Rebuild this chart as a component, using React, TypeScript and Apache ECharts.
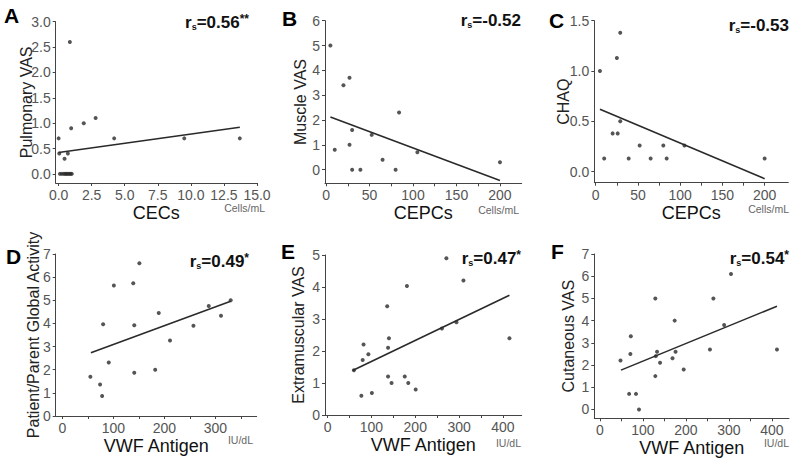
import React, { useEffect, useRef } from 'react';
import * as echarts from 'echarts';

const panelLetters = ['A', 'B', 'C', 'D', 'E', 'F'];
const xNames = ['CECs', 'CEPCs', 'CEPCs', 'VWF Antigen', 'VWF Antigen', 'VWF Antigen'];
const xUnits = ['Cells/mL', 'Cells/mL', 'Cells/mL', 'IU/dL', 'IU/dL', 'IU/dL'];
const yNames = ['Pulmonary VAS', 'Muscle VAS', 'CHAQ', 'Patient/Parent Global Activity', 'Extramuscular VAS', 'Cutaneous VAS'];
const rsValues = ['0.56', '-0.52', '-0.53', '0.49', '0.47', '0.54'];
const rsStars = ['**', '', '', '*', '*', '*'];

const pointsA = [
  [0.0, 0.7], [0.05, 0.4], [0.7, 0.4], [0.45, 0.3], [0.85, 2.6], [0.95, 0.9], [1.9, 1.0], [2.8, 1.1],
  [4.2, 0.7], [9.5, 0.7], [13.7, 0.7],
  [0.1, 0], [0.25, 0], [0.4, 0], [0.5, 0], [0.6, 0], [0.7, 0], [0.8, 0], [0.9, 0], [1.0, 0],
];
const fitA = [[0, 0.42], [13.7, 0.92]];

const pointsB = [
  [5, 5.0], [10, 0.8], [20, 3.4], [27, 3.7], [27, 1.0], [30, 1.6], [30, 0], [39.5, 0],
  [52.5, 1.4], [65, 0.4], [80, 0], [84, 2.3], [105, 0.7], [200, 0.3],
];
const fitB = [[5, 2.12], [200, -0.44]];

const pointsC = [
  [5, 1.0], [10, 0.13], [20, 0.38], [26, 0.38], [25, 1.13], [29, 1.38], [29, 0.5], [39, 0.13],
  [52, 0.26], [65, 0.13], [80, 0.26], [84, 0.13], [105, 0.26], [200, 0.13],
];
const fitC = [[5, 0.62], [200, -0.07]];

const pointsD = [
  [55, 1.7], [74, 1.36], [78, 0.86], [80, 3.96], [91, 2.31], [101, 5.64], [139, 5.74], [141, 3.92],
  [141, 1.87], [151, 6.6], [182, 2.0], [189, 4.45], [211, 3.26], [257, 3.9], [287, 4.75], [311, 4.33], [330, 5.0],
];
const fitD = [[56, 2.73], [330, 4.96]];

const pointsE = [
  [60, 1.4], [77, 0.6], [80, 1.72], [82, 2.2], [93, 1.9], [101, 0.69], [136, 3.4], [140, 2.4],
  [138, 2.1], [138, 1.2], [146, 1.0], [181, 4.03], [176, 1.2], [184, 1.0], [201, 0.8], [261, 2.7],
  [271, 4.9], [294, 2.9], [310, 4.2], [415, 2.4],
];
const fitE = [[57, 1.39], [415, 3.74]];

const pointsF = [
  [48, 2.2], [68, 0.7], [71, 2.5], [72, 3.3], [84, 0.7], [91, 0], [129, 5.0], [129, 1.5],
  [130, 2.4], [133, 2.6], [140, 2.1], [169, 2.3], [174, 4.0], [176, 2.6], [195, 1.8], [256, 2.7],
  [264, 5.0], [289, 3.8], [305, 6.1], [412, 2.7],
];
const fitF = [[49, 1.77], [412, 4.65]];

const xTicksA = [0, 2.5, 5, 7.5, 10, 12.5, 15];
const yTicksA = [0, 0.5, 1, 1.5, 2, 2.5, 3];
const xTicksBC = [0, 25, 50, 75, 100, 125, 150, 175, 200];
const xLabelsBC = [0, 50, 100, 150, 200];
const yTicksB = [0, 1, 2, 3, 4, 5, 6];
const yTicksC = [0, 0.5, 1, 1.5];
const xTicksD = [0, 50, 100, 150, 200, 250, 300, 350];
const xLabelsD = [0, 100, 200, 300];
const yTicksD = [0, 1, 2, 3, 4, 5, 6, 7];
const xTicksEF = [0, 50, 100, 150, 200, 250, 300, 350, 400];
const xLabelsEF = [0, 100, 200, 300, 400];
const yTicksE = [0, 1, 2, 3, 4, 5];
const yTicksF = [0, 1, 2, 3, 4, 5, 6, 7];

const panels = [
  { pts: pointsA, fit: fitA, xt: xTicksA, xl: xTicksA, yt: yTicksA, xd: 1, yd: 1 },
  { pts: pointsB, fit: fitB, xt: xTicksBC, xl: xLabelsBC, yt: yTicksB, xd: 0, yd: 0 },
  { pts: pointsC, fit: fitC, xt: xTicksBC, xl: xLabelsBC, yt: yTicksC, xd: 0, yd: 1 },
  { pts: pointsD, fit: fitD, xt: xTicksD, xl: xLabelsD, yt: yTicksD, xd: 0, yd: 0 },
  { pts: pointsE, fit: fitE, xt: xTicksEF, xl: xLabelsEF, yt: yTicksE, xd: 0, yd: 0 },
  { pts: pointsF, fit: fitF, xt: xTicksEF, xl: xLabelsEF, yt: yTicksF, xd: 0, yd: 0 },
];

// layout (pixels) and axis extents
const layout = [
  { l: 55.7, r: 257, t: 21.7, b: 183, xMin: -0.22, xMax: 15, yMin: -0.18, yMax: 3, yGap: 21 },
  { l: 325, r: 521.7, t: 20.7, b: 183.3, xMin: -1.2, xMax: 225, yMin: -0.55, yMax: 6, yGap: 17 },
  { l: 594.3, r: 788.3, t: 20.7, b: 182.7, xMin: -1.7, xMax: 228, yMin: -0.11, yMax: 1.5, yGap: 23 },
  { l: 55.7, r: 256.7, t: 254, b: 416, xMin: -13, xMax: 381, yMin: 0, yMax: 7, yGap: 14 },
  { l: 325, r: 521.7, t: 255, b: 415, xMin: -6, xMax: 443, yMin: 0, yMax: 5, yGap: 19 },
  { l: 594.3, r: 789, t: 254, b: 418.3, xMin: -13, xMax: 440, yMin: -0.4, yMax: 7, yGap: 18 },
];
const letterPos = [[4, 5], [282, 8], [549, 10], [6, 246], [281, 241], [551, 241]];
const rsPos = [[249, 22], [521, 20], [789, 25], [249, 261], [521, 258], [789, 258]];
const unitPos = [[265, 208], [519, 210], [789, 209], [253, 440], [521, 443], [789, 443]];

const FONT = 'Liberation Sans, Arial, Helvetica, sans-serif';
const AXIS = '#444';
const DOT = '#2a2a2a';

export default function App() {
  const ref = useRef<HTMLDivElement>(null);
  useEffect(() => {
    if (!ref.current) return;
    const chart = echarts.init(ref.current, null, { renderer: 'svg' });
    const grid: any[] = [];
    const xAxis: any[] = [];
    const yAxis: any[] = [];
    const series: any[] = [];
    const graphic: any[] = [];
    panels.forEach((p, i) => {
      const g = layout[i];
      grid.push({ left: g.l, top: g.t, width: g.r - g.l, height: g.b - g.t });
      xAxis.push({
        type: 'value', gridIndex: i, min: g.xMin, max: g.xMax,
        name: xNames[i], nameLocation: 'middle', nameGap: 21,
        nameTextStyle: { fontFamily: FONT, fontSize: 18, color: '#111' },
        axisLine: { show: true, onZero: false, lineStyle: { color: AXIS, width: 1 } },
        axisTick: { show: true, length: 3, customValues: p.xt, lineStyle: { color: AXIS } },
        axisLabel: {
          customValues: p.xl, margin: 5, fontFamily: FONT, fontSize: 14, color: '#555',
          formatter: (v: number) => v.toFixed(p.xd),
        },
        splitLine: { show: false },
      });
      yAxis.push({
        type: 'value', gridIndex: i, min: g.yMin, max: g.yMax,
        name: yNames[i], nameLocation: 'middle', nameGap: g.yGap, nameMoveOverlap: false,
        nameTextStyle: { fontFamily: FONT, fontSize: 16, color: '#222' },
        axisLine: { show: true, onZero: false, lineStyle: { color: AXIS, width: 1 } },
        axisTick: { show: true, length: 3, customValues: p.yt, lineStyle: { color: AXIS } },
        axisLabel: {
          customValues: p.yt, margin: 5, fontFamily: FONT, fontSize: 14, color: '#555',
          formatter: (v: number) => v.toFixed(p.yd),
        },
        splitLine: { show: false },
      });
      series.push({
        type: 'scatter', xAxisIndex: i, yAxisIndex: i, data: p.pts,
        symbolSize: 4, itemStyle: { color: DOT }, silent: true,
      });
      series.push({
        type: 'line', xAxisIndex: i, yAxisIndex: i, data: p.fit, showSymbol: false,
        lineStyle: { color: '#2a2a2a', width: 1.6 }, silent: true,
      });
      graphic.push({
        type: 'text', x: letterPos[i][0], y: letterPos[i][1],
        style: { text: panelLetters[i], font: `bold 21px ${FONT}`, fill: '#000' },
      });
      graphic.push({
        type: 'text', x: rsPos[i][0], y: rsPos[i][1],
        style: {
          text: `{r|r}{s|s}{r|=${rsValues[i]}}{a|${rsStars[i]}}`,
          align: 'right', verticalAlign: 'middle',
          rich: {
            r: { fontFamily: FONT, fontSize: 17, fontWeight: 'bold', fill: '#111', color: '#111' },
            s: { fontFamily: FONT, fontSize: 9, fontWeight: 'bold', fill: '#111', color: '#111', verticalAlign: 'bottom', padding: [8, 0, 0, 0] },
            a: { fontFamily: FONT, fontSize: 12, fontWeight: 'bold', fill: '#111', color: '#111', verticalAlign: 'top', padding: [0, 0, 6, 0] },
          },
        },
      });
      graphic.push({
        type: 'text', x: unitPos[i][0], y: unitPos[i][1],
        style: { text: xUnits[i], font: `10.5px ${FONT}`, fill: '#666', align: 'right', verticalAlign: 'middle' },
      });
    });
    chart.setOption({
      animation: false,
      backgroundColor: '#fff',
      grid, xAxis, yAxis, series, graphic,
    });
    return () => chart.dispose();
  }, []);
  return <div ref={ref} style={{ width: 800, height: 462, position: 'absolute', left: 0, top: 0 }} />;
}
